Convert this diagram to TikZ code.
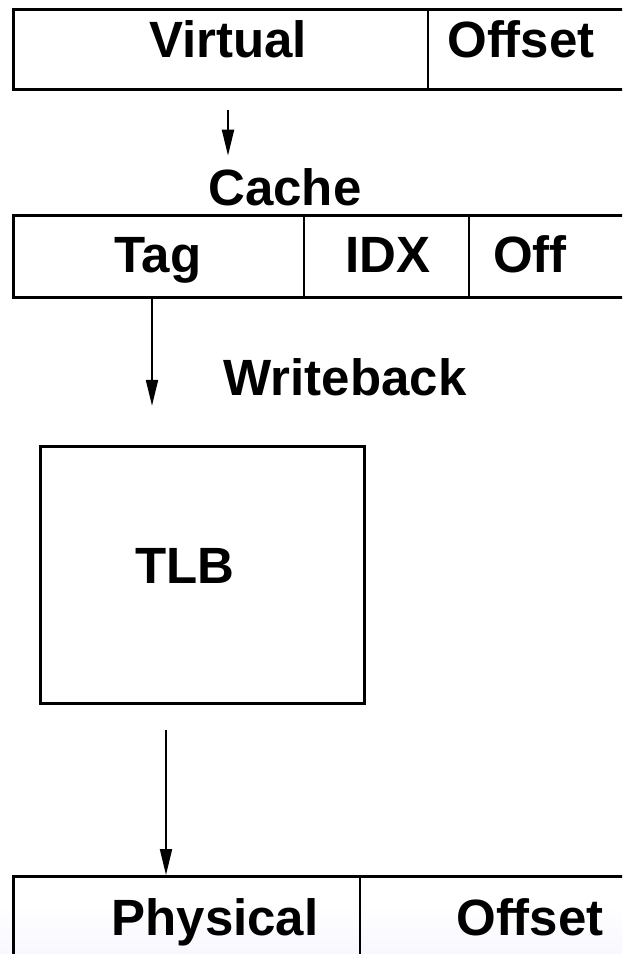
\documentclass[tikz,border=0pt]{standalone}
\usepackage{fontspec}
\setmainfont{Liberation Sans}
\usetikzlibrary{arrows.meta,positioning,calc}
\tikzset{
	px/.style={x=0.5pt,y=-0.5pt},
	row/.style={draw,line width=1.4pt,inner sep=0pt,anchor=north west,
		minimum width=324pt,minimum height=#1},
	lbl/.style={font=\fontsize{25.5}{30}\selectfont\bfseries,inner sep=0pt,anchor=base},
	ar/.style={line width=1pt,-{Triangle[length=13pt,width=6pt]}},
	cut/.style={line width=1.4pt}
}

\begin{document}
\begin{tikzpicture}[px]
  \useasboundingbox (0,0) rectangle (622,954);
  \clip (0,0) rectangle (622,954);
  \shade[top color=white,bottom color=blue!3] (0,905) rectangle (622,954);

  % virtual address
  \node[row=40pt] (vrow) at (12,8) {};
  \coordinate (vcut) at (428,0);
  \draw[cut] (vcut |- vrow.north) -- (vcut |- vrow.south);
  \node[lbl] (virt) at (228,57) {Virtual};
  \node[lbl] (voff) at (521,57) {Offset};

  % cache view
  \node[lbl] (cache) at (285,205) {Cache};
  \node[row=41pt] (crow) at (12,214) {};
  \coordinate (ccut1) at (304,0);
  \coordinate (ccut2) at (469,0);
  \draw[cut] (ccut1 |- crow.north) -- (ccut1 |- crow.south);
  \draw[cut] (ccut2 |- crow.north) -- (ccut2 |- crow.south);
  \node[lbl] (tag) at (158,272) {Tag};
  \node[lbl] (idx) at (388,272) {IDX};
  \node[lbl] (coff) at (530,272) {Off};

  \node[lbl] (wb) at (345,395) {Writeback};

  % tlb
  \node[draw,line width=1.4pt,anchor=north west,minimum width=162pt,
        minimum height=128.5pt] (tlb) at (39,445) {};
  \node[lbl] (tlblbl) at (185,583) {TLB};

  % physical address
  \node[row=60pt] (prow) at (12,875) {};
  \coordinate (pcut) at (360,0);
  \draw[cut] (pcut |- prow.north) -- (pcut |- prow.south);
  \node[lbl] (phys) at (215,935) {Physical};
  \node[lbl] (poff) at (530,935) {Offset};

  % arrows
  \coordinate (a1) at (228,0);
  \coordinate (a2) at (152,0);
  \coordinate (a3) at (166,0);
  \draw[ar,shorten <=9.5pt,shorten >=6pt] (a1 |- vrow.south) -- (a1 |- cache.north);
  \draw[ar] (a2 |- crow.south) -- ++(0,107) coordinate (wbend);
  \draw[ar,shorten <=12.5pt] (a3 |- tlb.south) -- (a3 |- prow.north);
\end{tikzpicture}
\end{document}
